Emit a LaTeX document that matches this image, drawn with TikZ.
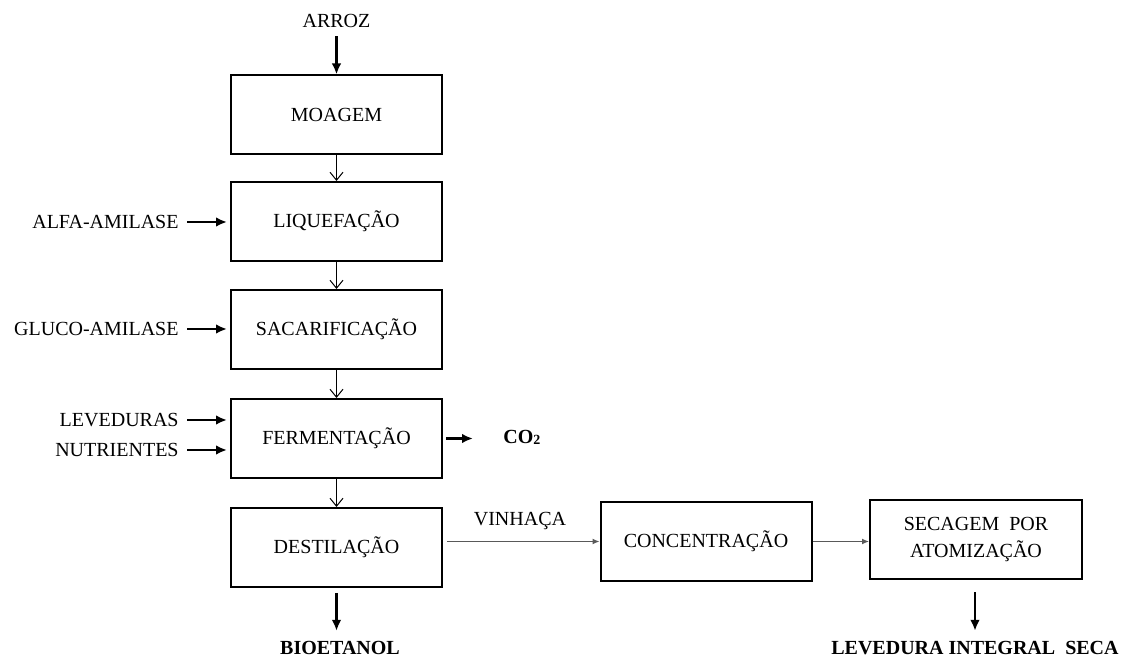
\documentclass[tikz,border=0pt]{standalone}
\usepackage{fontspec}
\setmainfont{Liberation Serif}
\usetikzlibrary{arrows.meta}
\begin{document}
\begin{tikzpicture}[x=0.5pt,y=-0.5pt,
  every node/.style={font=\fontsize{10}{12}\selectfont},
  proc/.style={draw,line width=1pt,minimum width=105.5pt,minimum height=39.5pt,inner sep=0pt,align=center},
  lbl/.style={inner sep=0pt},
  thinarr/.style={line width=0.5pt,-{Straight Barb[length=4pt,width=6.5pt]}},
  thickarr/.style={line width=1.1pt,-{Latex[length=5.5pt,width=4.8pt]}},
  grayarr/.style={line width=0.6pt,draw=black!65,-{Latex[length=3.5pt,width=3pt]}}]
\useasboundingbox (0,0) rectangle (1121,657);
% main column
\node[proc] (moa) at (336.5,115) {MOAGEM};
\node[proc] (liq) at (336.5,221.5) {LIQUEFAÇÃO};
\node[proc] (sac) at (336.5,329.5) {SACARIFICAÇÃO};
\node[proc] (fer) at (336.5,438.5) {FERMENTAÇÃO};
\node[proc] (des) at (336.5,547.5) {DESTILAÇÃO};
\node[proc] (con) at (706,541.5) {CONCENTRAÇÃO};
\node[proc,minimum width=106pt] (sec) at (976,540) {SECAGEM\ \ POR\\[1.5pt]ATOMIZAÇÃO};
% labels
\node[lbl] (arroz) at (336.5,21) {ARROZ};
\node[lbl,anchor=east] (alfa) at (179,222) {ALFA-AMILASE};
\node[lbl,anchor=east] (gluco) at (179,329) {GLUCO-AMILASE};
\node[lbl,anchor=east] (lev) at (179,420) {LEVEDURAS};
\node[lbl,anchor=east] (nut) at (179,450) {NUTRIENTES};
\node[lbl,anchor=west,font=\fontsize{10}{12}\selectfont\bfseries] (co2) at (503,437) {CO\raisebox{-0.1ex}{\fontsize{7}{8}\selectfont 2}};
\node[lbl,font=\fontsize{10}{12}\selectfont\bfseries] (bio) at (340,648) {BIOETANOL};
\node[lbl,font=\fontsize{10}{12}\selectfont\bfseries] (lis) at (975,648) {LEVEDURA INTEGRAL\ \ SECA};
\node[lbl] (vin) at (520,521) {VINHAÇA};
% connectors
\draw[thickarr,shorten <=8pt*0.5] (arroz.south) -- (moa.north);
\draw[thinarr] (moa.south) -- (liq.north);
\draw[thinarr] (liq.south) -- (sac.north);
\draw[thinarr] (sac.south) -- (fer.north);
\draw[thinarr] (fer.south) -- (des.north);
\draw[thickarr,shorten <=8pt*0.5,shorten >=1.5pt] (alfa.east) -- (alfa.east -| liq.west);
\draw[thickarr,shorten <=8pt*0.5,shorten >=1.5pt] (gluco.east) -- (gluco.east -| sac.west);
\draw[thickarr,shorten <=8pt*0.5,shorten >=1.5pt] (lev.east) -- (lev.east -| fer.west);
\draw[thickarr,shorten <=8pt*0.5,shorten >=1.5pt] (nut.east) -- (nut.east -| fer.west);
\draw[thickarr,shorten <=1.5pt,shorten >=15pt] (fer.east) -- (co2.west |- fer.east);
\draw[thickarr,shorten <=2.5pt,shorten >=5pt] (des.south) -- (des.south |- bio.north);
\draw[thickarr,shorten <=6pt,shorten >=5pt] (sec.south -| lis.north) -- (lis.north);
\draw[grayarr,shorten <=2pt] (des.east |- con.west) -- (con.west);
\draw[grayarr] (con.east) -- (con.east -| sec.west);
\end{tikzpicture}
\end{document}
